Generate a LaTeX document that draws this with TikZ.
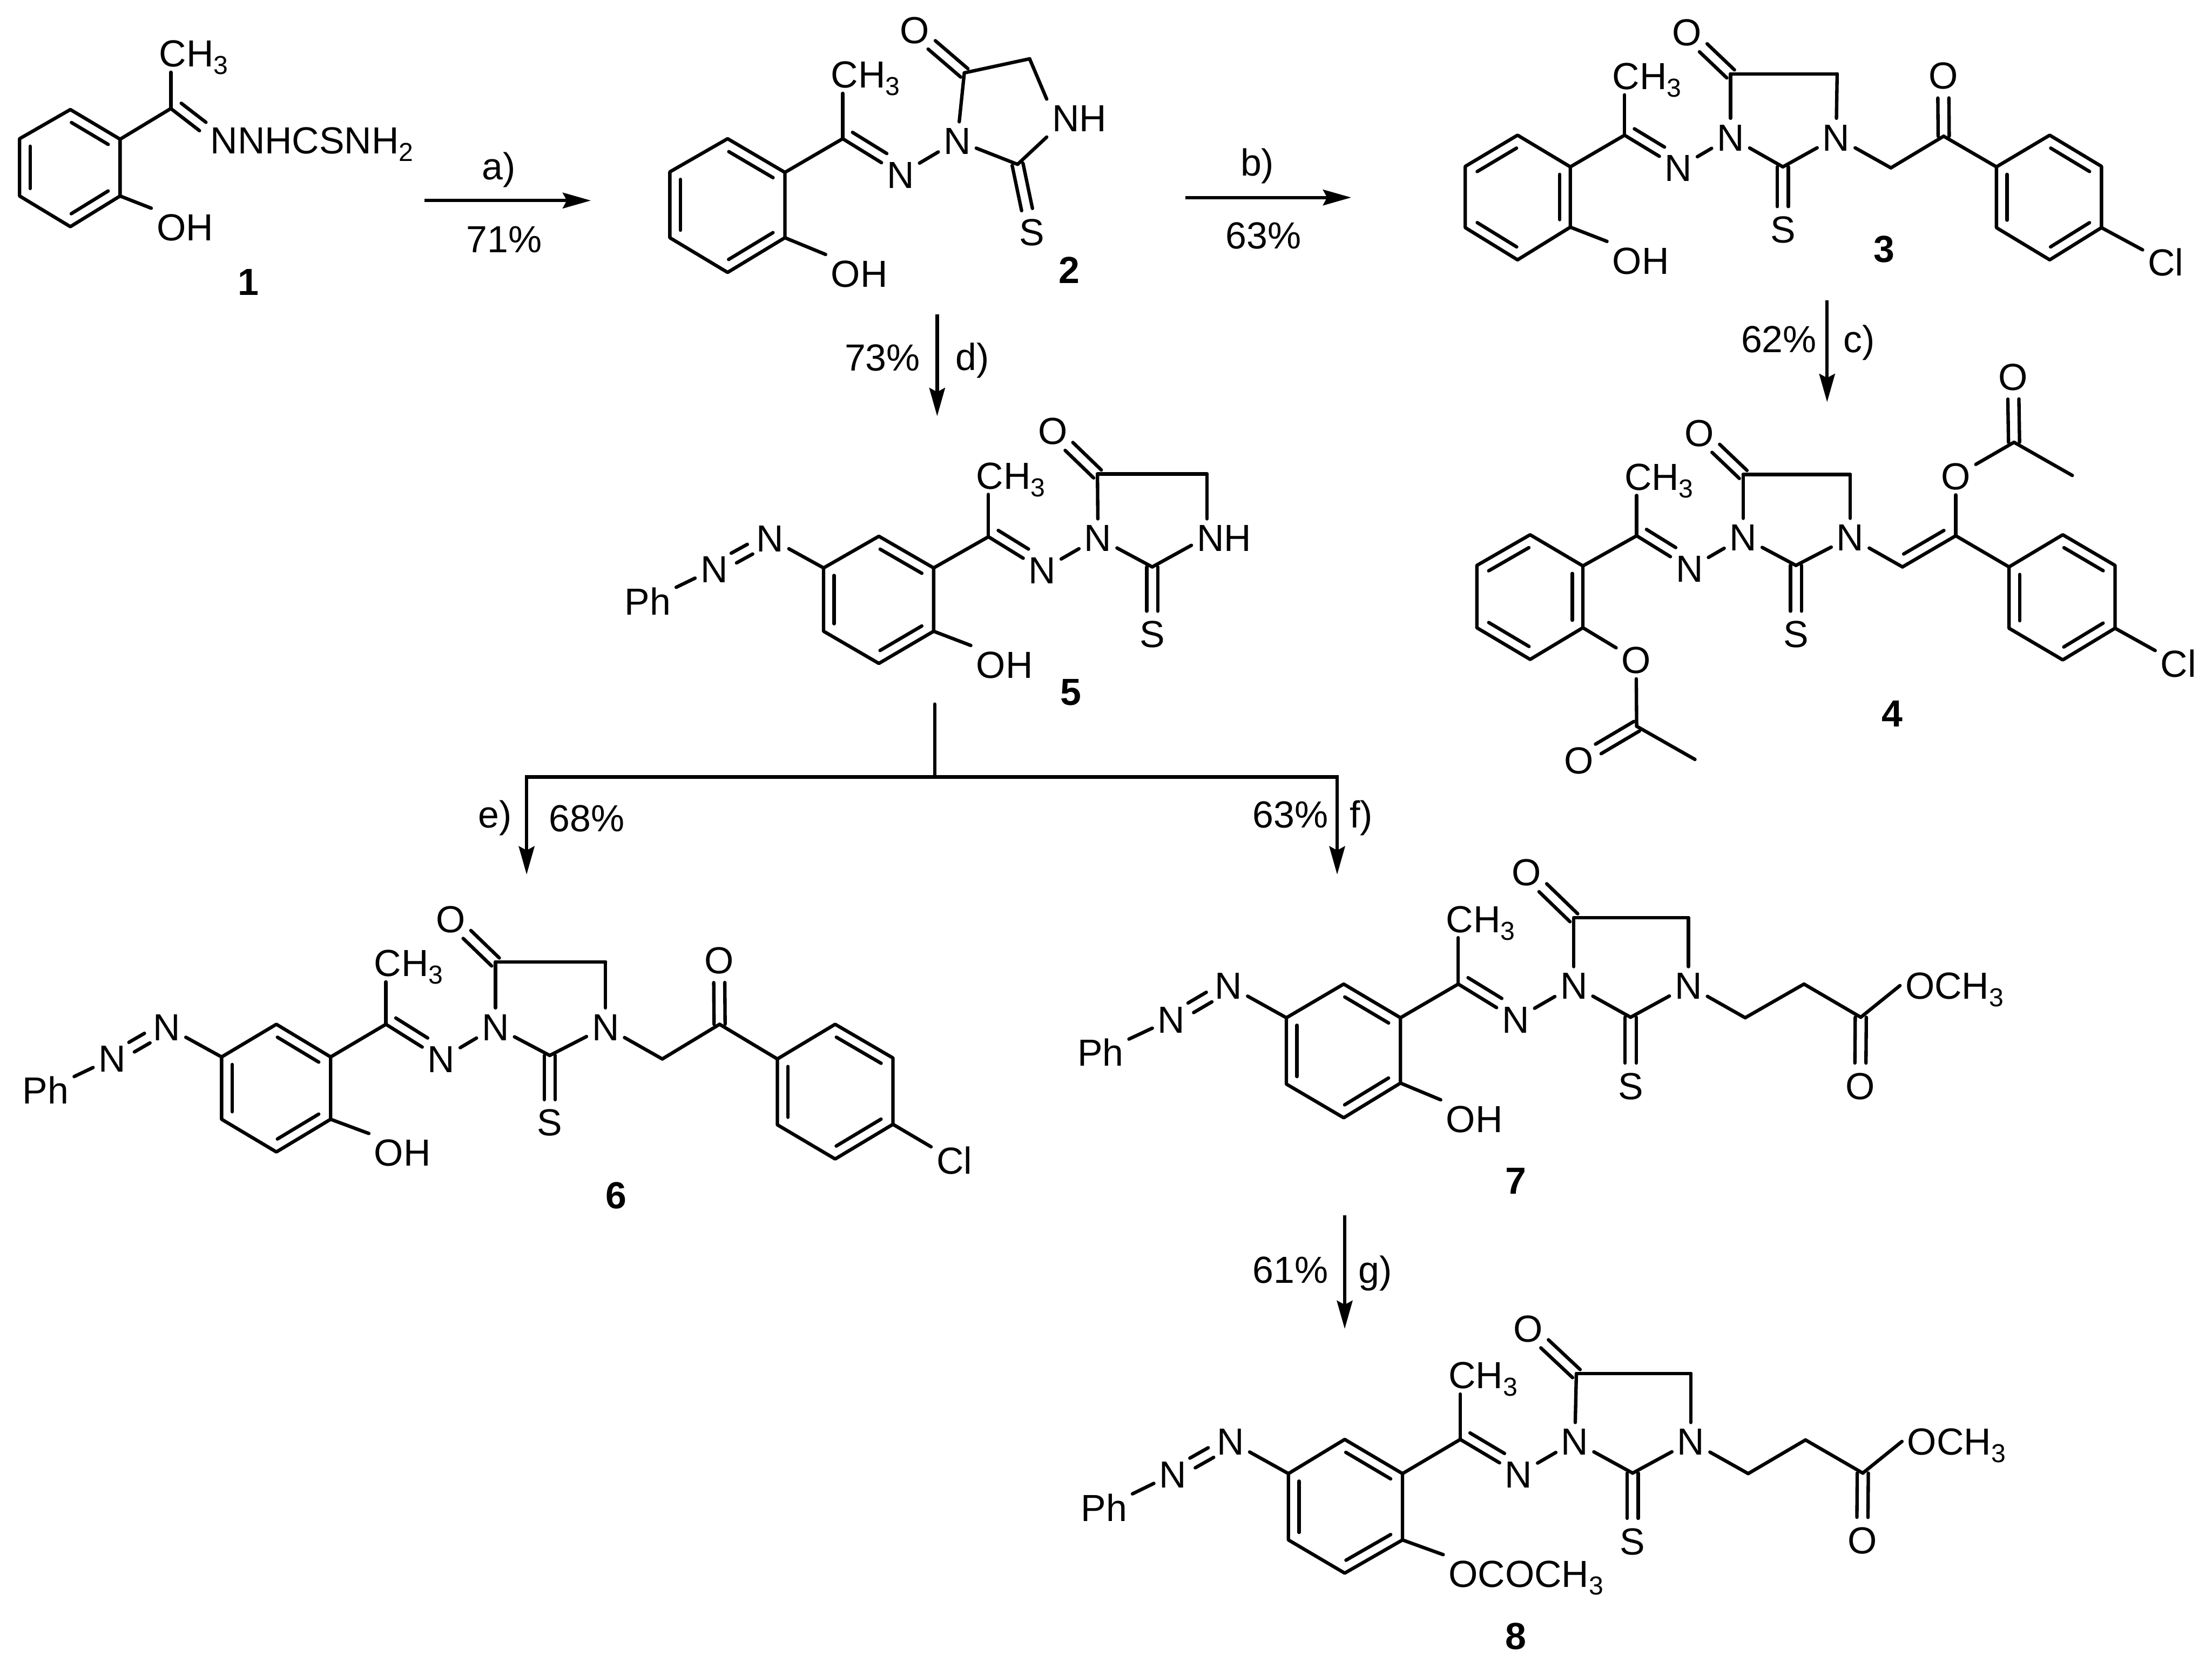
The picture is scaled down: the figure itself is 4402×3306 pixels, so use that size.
\documentclass[tikz,border=0pt]{standalone}
\usepackage{fontspec}
\setmainfont{Liberation Sans}
\usetikzlibrary{calc}
\usetikzlibrary{arrows.meta}
\pgfdeclarelayer{nodelayer}
\pgfdeclarelayer{edgelayer}
\pgfsetlayers{edgelayer,nodelayer,main}
\newcommand{\chemsub}[1]{\raisebox{-.2em}{\fontsize{14.7}{14.7}\selectfont #1}}
\tikzset{atom/.style={inner sep=.1cm, text height=.54cm, text depth=0pt, font=\fontsize{21.34}{21.34}\selectfont}}
\tikzset{cond/.style={atom, inner sep=0pt}}
\tikzset{cpd/.style={atom, inner sep=0pt, font=\fontsize{21.34}{21.34}\selectfont\bfseries}}
\tikzset{bond/.style={line width=.068cm, line cap=round}}
\tikzset{rxn/.style={line width=.068cm, -{Stealth[length=.56cm, width=.31cm, inset=.08cm]}}}
\newcommand{\setring}[7]{\coordinate (#11) at (#2); \coordinate (#12) at (#3); \coordinate (#13) at (#4); \coordinate (#14) at (#5); \coordinate (#15) at (#6); \coordinate (#16) at (#7);}
\newcommand{\sidebond}[4]{\draw [style=bond] ($(#1)!#3!(#2)!.21cm!90:(#2)$) to ($(#2)!#4!(#1)!.21cm!-90:(#1)$);}
\newcommand{\twinbond}[4]{\draw [style=bond] ($(#1)!#3!(#2)!.11cm!90:(#2)$) to ($(#2)!#4!(#1)!.11cm!-90:(#1)$);
\draw [style=bond] ($(#1)!#3!(#2)!.11cm!-90:(#2)$) to ($(#2)!#4!(#1)!.11cm!90:(#1)$);}
\newcommand{\drawring}[1]{\draw [style=bond, line join=round] (#11) -- (#12) -- (#13) -- (#14) -- (#15) -- (#16) -- cycle;}
\newcommand{\ringA}[1]{\drawring{#1}\sidebond{#16}{#11}{.15cm}{.15cm}\sidebond{#12}{#13}{.15cm}{.15cm}\sidebond{#14}{#15}{.15cm}{.15cm}}
\newcommand{\ringB}[1]{\drawring{#1}\sidebond{#11}{#12}{.15cm}{.15cm}\sidebond{#13}{#14}{.15cm}{.15cm}\sidebond{#15}{#16}{.15cm}{.15cm}}
\newcommand{\corebonds}[1]{
\draw [style=bond] (#1c) to (#1c |- #1me.south);
\draw [style=bond] (#1c) to (#1ni);
\sidebond{#1c}{#1ni}{.1cm}{.45cm}
\draw [style=bond] (#1ni) to (#1na);
\draw [style=bond] (#1na) to (#1co);
\draw [style=bond] (#1co) to (#1ch);
\draw [style=bond] (#1na) to (#1cs);
\twinbond{#1co}{#1o}{0cm}{.45cm}
\twinbond{#1cs}{#1s}{0cm}{.45cm}
}
\newcommand{\azobonds}[1]{
\draw [style=bond] (#1ph) to (#1nl);
\twinbond{#1nl}{#1nu}{.45cm}{.45cm}
\draw [style=bond] (#1nu) to (#1r2);
}
\begin{document}
\begin{tikzpicture}[x=.01cm, y=-.01cm]
\useasboundingbox (0,0) rectangle (4402,3306);
\begin{pgfonlayer}{nodelayer}
\setring{m1r}{140,218}{39,276}{39,390}{140,451}{239,390}{239,277}
\coordinate (m1c) at (340,216);
\coordinate (m1cn) at (397,260);
\node [style=atom, anchor=west] (m1me) at (306,106) {CH\chemsub{3}};
\node [style=atom, anchor=west] (m1n) at (408,279) {NNHCSNH\chemsub{2}};
\node [style=atom, anchor=west] (m1oh) at (301,452) {OH};
\node [style=cpd] (lab1) at (494,560) {1};

\coordinate (stepa0) at (845,399);
\coordinate (stepa1) at (1176,399);
\node [style=cond] (conda) at (993,330) {a)};
\node [style=cond] (yielda) at (1003,475) {71\%};

\setring{m2r}{1448,276}{1333,342}{1333,473}{1448,542}{1562,473}{1562,343}
\coordinate (m2c) at (1677,276);
\coordinate (m2cs) at (2025,327);
\coordinate (m2co) at (1919,145);
\coordinate (m2ch) at (2049,117);
\node [style=atom, anchor=west] (m2me) at (1643,148) {CH\chemsub{3}};
\node [style=atom] (m2ni) at (1792,347) {N};
\node [style=atom] (m2na) at (1905,280) {N};
\node [style=atom, anchor=west] (m2nh) at (2083,235) {NH};
\node [style=atom] (m2s) at (2053,461) {S};
\node [style=atom] (m2o) at (1820,60) {O};
\node [style=atom, anchor=west] (m2oh) at (1643,544) {OH};
\node [style=cpd] (lab2) at (2128,537) {2};

\coordinate (stepb0) at (2359,393);
\coordinate (stepb1) at (2689,393);
\node [style=cond] (condb) at (2502,323) {b)};
\node [style=cond] (yieldb) at (2514,468) {63\%};

\setring{m3r}{3020,269}{2916,331}{2916,453}{3020,517}{3125,452}{3125,332}
\setring{m3a}{4079,269}{3973,332}{3973,453}{4079,517}{4182,453}{4182,331}
\coordinate (m3c) at (3233,269);
\coordinate (m3cs) at (3548,332);
\coordinate (m3co) at (3444,147);
\coordinate (m3ch) at (3656,147);
\coordinate (m3x) at (3763,334);
\coordinate (m3k) at (3868,271);
\node [style=atom, anchor=west] (m3me) at (3198,151) {CH\chemsub{3}};
\node [style=atom] (m3ni) at (3340,334) {N};
\node [style=atom] (m3na) at (3444,273) {N};
\node [style=atom] (m3nb) at (3654,273) {N};
\node [style=atom] (m3s) at (3548,456) {S};
\node [style=atom] (m3o) at (3357,64) {O};
\node [style=atom] (m3ok) at (3867,150) {O};
\node [style=atom, anchor=west] (m3oh) at (3198,518) {OH};
\node [style=atom] (m3cl) at (4310,522) {Cl};
\node [style=cpd] (lab3) at (3750,495) {3};

\coordinate (stepc0) at (3636,597);
\coordinate (stepc1) at (3636,800);
\node [style=cond] (yieldc) at (3540,674) {62\%};
\node [style=cond] (condc) at (3700,674) {c)};

\setring{m4r}{3045,1064}{2939,1125}{2939,1249}{3045,1312}{3150,1249}{3150,1126}
\setring{m4a}{4105,1064}{3998,1128}{3998,1250}{4105,1313}{4209,1250}{4209,1125}
\coordinate (m4c) at (3257,1066);
\coordinate (m4cs) at (3574,1125);
\coordinate (m4co) at (3469,944);
\coordinate (m4ch) at (3682,944);
\coordinate (m4v) at (3786,1128);
\coordinate (m4w) at (3892,1066);
\coordinate (m4e) at (4008,880);
\coordinate (m4f) at (4124,946);
\coordinate (m4g) at (3257,1445);
\coordinate (m4h) at (3373,1511);
\node [style=atom, anchor=west] (m4me) at (3222,948) {CH\chemsub{3}};
\node [style=atom] (m4ni) at (3362,1131) {N};
\node [style=atom] (m4na) at (3469,1069) {N};
\node [style=atom] (m4nb) at (3682,1069) {N};
\node [style=atom] (m4s) at (3574,1261) {S};
\node [style=atom] (m4o) at (3382,861) {O};
\node [style=atom] (m4oa) at (3892,947) {O};
\node [style=atom] (m4ob) at (4006,749) {O};
\node [style=atom] (m4oc) at (3256,1313) {O};
\node [style=atom] (m4od) at (3142,1513) {O};
\node [style=atom] (m4cl) at (4335,1320) {Cl};
\node [style=cpd] (lab4) at (3766,1419) {4};

\coordinate (stepd0) at (1865,626);
\coordinate (stepd1) at (1865,828);
\node [style=cond] (yieldd) at (1756,711) {73\%};
\node [style=cond] (condd) at (1935,710) {d)};

\setring{m5r}{1749,1067}{1639,1130}{1639,1256}{1749,1320}{1858,1256}{1858,1130}
\coordinate (m5c) at (1967,1068);
\coordinate (m5cs) at (2293,1128);
\coordinate (m5co) at (2184,943);
\coordinate (m5ch) at (2402,943);
\node [style=atom, anchor=west] (m5me) at (1932,946) {CH\chemsub{3}};
\node [style=atom] (m5ni) at (2074,1134) {N};
\node [style=atom] (m5na) at (2185,1070) {N};
\node [style=atom, anchor=west] (m5nh) at (2371,1070) {NH};
\node [style=atom] (m5s) at (2293,1261) {S};
\node [style=atom] (m5o) at (2095,857) {O};
\node [style=atom] (m5nu) at (1532,1071) {N};
\node [style=atom] (m5nl) at (1421,1132) {N};
\node [style=atom] (m5ph) at (1289,1196) {Ph};
\node [style=atom, anchor=west] (m5oh) at (1932,1322) {OH};
\node [style=cpd] (lab5) at (2131,1376) {5};

\coordinate (stem) at (1860,1401);
\coordinate (fork) at (1860,1546);
\coordinate (stepe) at (1048,1740);
\coordinate (stepf) at (2661,1740);
\node [style=cond] (conde) at (985,1620) {e)};
\node [style=cond] (yielde) at (1168,1628) {68\%};
\node [style=cond] (yieldf) at (2568,1620) {63\%};
\node [style=cond] (condf) at (2709,1620) {f)};

\setring{m6r}{550,2038}{441,2103}{441,2227}{550,2292}{658,2227}{658,2103}
\setring{m6a}{1662,2038}{1547,2107}{1547,2238}{1662,2306}{1777,2237}{1777,2105}
\coordinate (m6c) at (768,2038);
\coordinate (m6cs) at (1094,2100);
\coordinate (m6co) at (986,1914);
\coordinate (m6ch) at (1205,1914);
\coordinate (m6x) at (1318,2107);
\coordinate (m6k) at (1432,2038);
\node [style=atom, anchor=west] (m6me) at (734,1916) {CH\chemsub{3}};
\node [style=atom] (m6ni) at (878,2107) {N};
\node [style=atom] (m6na) at (986,2043) {N};
\node [style=atom] (m6nb) at (1205,2043) {N};
\node [style=atom] (m6s) at (1094,2233) {S};
\node [style=atom] (m6o) at (897,1828) {O};
\node [style=atom] (m6ok) at (1431,1910) {O};
\node [style=atom] (m6nu) at (332,2043) {N};
\node [style=atom] (m6nl) at (223,2106) {N};
\node [style=atom] (m6ph) at (91,2169) {Ph};
\node [style=atom, anchor=west] (m6oh) at (734,2293) {OH};
\node [style=atom] (m6cl) at (1899,2309) {Cl};
\node [style=cpd] (lab6) at (1226,2378) {6};

\setring{m7r}{2674,1958}{2560,2025}{2560,2157}{2674,2224}{2787,2155}{2787,2025}
\coordinate (m7c) at (2902,1958);
\coordinate (m7cs) at (3245,2024);
\coordinate (m7co) at (3132,1826);
\coordinate (m7ch) at (3360,1826);
\coordinate (m7x) at (3473,2025);
\coordinate (m7y) at (3590,1958);
\coordinate (m7k) at (3703,2024);
\node [style=atom, anchor=west] (m7me) at (2867,1828) {CH\chemsub{3}};
\node [style=atom] (m7ni) at (3016,2028) {N};
\node [style=atom] (m7na) at (3132,1961) {N};
\node [style=atom] (m7nb) at (3360,1961) {N};
\node [style=atom] (m7s) at (3245,2160) {S};
\node [style=atom] (m7o) at (3038,1735) {O};
\node [style=atom] (m7ok) at (3702,2160) {O};
\node [style=atom, anchor=west] (m7me2) at (3781,1961) {OCH\chemsub{3}};
\node [style=atom] (m7nu) at (2445,1961) {N};
\node [style=atom] (m7nl) at (2331,2028) {N};
\node [style=atom] (m7ph) at (2190,2094) {Ph};
\node [style=atom, anchor=west] (m7oh) at (2867,2226) {OH};
\node [style=cpd] (lab7) at (3017,2349) {7};

\coordinate (stepg0) at (2676,2418);
\coordinate (stepg1) at (2676,2644);
\node [style=cond] (yieldg) at (2568,2526) {61\%};
\node [style=cond] (condg) at (2737,2526) {g)};

\setring{m8r}{2676,2864}{2564,2932}{2564,3064}{2676,3130}{2791,3064}{2791,2932}
\coordinate (m8c) at (2906,2864);
\coordinate (m8cs) at (3249,2931);
\coordinate (m8co) at (3137,2733);
\coordinate (m8ch) at (3365,2733);
\coordinate (m8x) at (3479,2932);
\coordinate (m8y) at (3593,2865);
\coordinate (m8k) at (3707,2931);
\node [style=atom, anchor=west] (m8me) at (2872,2736) {CH\chemsub{3}};
\node [style=atom] (m8ni) at (3022,2933) {N};
\node [style=atom] (m8na) at (3134,2868) {N};
\node [style=atom] (m8nb) at (3365,2868) {N};
\node [style=atom] (m8s) at (3249,3066) {S};
\node [style=atom] (m8o) at (3041,2643) {O};
\node [style=atom] (m8ok) at (3706,3064) {O};
\node [style=atom, anchor=west] (m8me2) at (3785,2868) {OCH\chemsub{3}};
\node [style=atom] (m8nu) at (2449,2868) {N};
\node [style=atom] (m8nl) at (2334,2933) {N};
\node [style=atom] (m8ph) at (2197,3000) {Ph};
\node [style=atom, anchor=west] (m8ac) at (2872,3131) {OCOCH\chemsub{3}};
\node [style=cpd] (lab8) at (3017,3255) {8};
\end{pgfonlayer}
\begin{pgfonlayer}{edgelayer}
\ringA{m1r}
\draw [style=bond] (m1r6) to (m1c);
\draw [style=bond] (m1c) to (m1c |- m1me.south);
\draw [style=bond] (m1c) to (m1cn);
\sidebond{m1c}{m1cn}{.1cm}{0cm}
\draw [style=bond] (m1r5) to (m1oh.north west);
\draw [style=rxn] (stepa0) to (stepa1);

\ringA{m2r}
\corebonds{m2}
\draw [style=bond] (m2r6) to (m2c);
\draw [style=bond] (m2r5) to (m2oh.north west);
\draw [style=bond] (m2ch) to (m2nh.north west);
\draw [style=bond] (m2cs) to (m2nh.south west);
\draw [style=rxn] (stepb0) to (stepb1);

\ringB{m3r}
\ringA{m3a}
\corebonds{m3}
\draw [style=bond] (m3r6) to (m3c);
\draw [style=bond] (m3r5) to (m3oh.north west);
\draw [style=bond] (m3ch) to (m3nb);
\draw [style=bond] (m3cs) to (m3nb);
\draw [style=bond] (m3nb) to (m3x);
\draw [style=bond] (m3x) to (m3k);
\twinbond{m3k}{m3ok}{0cm}{.45cm}
\draw [style=bond] (m3k) to (m3a2);
\draw [style=bond] (m3a5) to (m3cl);
\draw [style=rxn] (stepc0) to (stepc1);

\ringB{m4r}
\ringA{m4a}
\corebonds{m4}
\draw [style=bond] (m4r6) to (m4c);
\draw [style=bond] (m4ch) to (m4nb);
\draw [style=bond] (m4cs) to (m4nb);
\draw [style=bond] (m4nb) to (m4v);
\draw [style=bond] (m4v) to (m4w);
\sidebond{m4v}{m4w}{.15cm}{.15cm}
\draw [style=bond] (m4w) to (m4a2);
\draw [style=bond] (m4w) to (m4oa);
\draw [style=bond] (m4oa) to (m4e);
\twinbond{m4e}{m4ob}{0cm}{.45cm}
\draw [style=bond] (m4e) to (m4f);
\draw [style=bond] (m4r5) to (m4oc);
\draw [style=bond] (m4oc) to (m4g);
\twinbond{m4g}{m4od}{0cm}{.45cm}
\draw [style=bond] (m4g) to (m4h);
\draw [style=bond] (m4a5) to (m4cl);

\draw [style=rxn] (stepd0) to (stepd1);
\ringA{m5r}
\corebonds{m5}
\azobonds{m5}
\draw [style=bond] (m5r6) to (m5c);
\draw [style=bond] (m5r5) to (m5oh.north west);
\draw [style=bond] (m5ch) to (m5ch |- m5nh.north);
\draw [style=bond] (m5cs) to ([yshift=-.15cm]m5nh.west);

\draw [style=bond] (stem) to (fork);
\draw [style=rxn] (fork) -| (stepe);
\draw [style=rxn] (fork) -| (stepf);

\ringA{m6r}
\ringA{m6a}
\corebonds{m6}
\azobonds{m6}
\draw [style=bond] (m6r6) to (m6c);
\draw [style=bond] (m6r5) to (m6oh.north west);
\draw [style=bond] (m6ch) to (m6nb);
\draw [style=bond] (m6cs) to (m6nb);
\draw [style=bond] (m6nb) to (m6x);
\draw [style=bond] (m6x) to (m6k);
\twinbond{m6k}{m6ok}{0cm}{.45cm}
\draw [style=bond] (m6k) to (m6a2);
\draw [style=bond] (m6a5) to (m6cl);

\ringA{m7r}
\corebonds{m7}
\azobonds{m7}
\draw [style=bond] (m7r6) to (m7c);
\draw [style=bond] (m7r5) to (m7oh.north west);
\draw [style=bond] (m7ch) to (m7nb);
\draw [style=bond] (m7cs) to (m7nb);
\draw [style=bond] (m7nb) to (m7x);
\draw [style=bond] (m7x) to (m7y);
\draw [style=bond] (m7y) to (m7k);
\twinbond{m7k}{m7ok}{0cm}{.45cm}
\draw [style=bond] (m7k) to (m7me2.west);
\draw [style=rxn] (stepg0) to (stepg1);

\ringA{m8r}
\corebonds{m8}
\azobonds{m8}
\draw [style=bond] (m8r6) to (m8c);
\draw [style=bond] (m8r5) to (m8ac.north west);
\draw [style=bond] (m8ch) to (m8nb);
\draw [style=bond] (m8cs) to (m8nb);
\draw [style=bond] (m8nb) to (m8x);
\draw [style=bond] (m8x) to (m8y);
\draw [style=bond] (m8y) to (m8k);
\twinbond{m8k}{m8ok}{0cm}{.45cm}
\draw [style=bond] (m8k) to (m8me2.west);
\end{pgfonlayer}
\end{tikzpicture}
\end{document}
